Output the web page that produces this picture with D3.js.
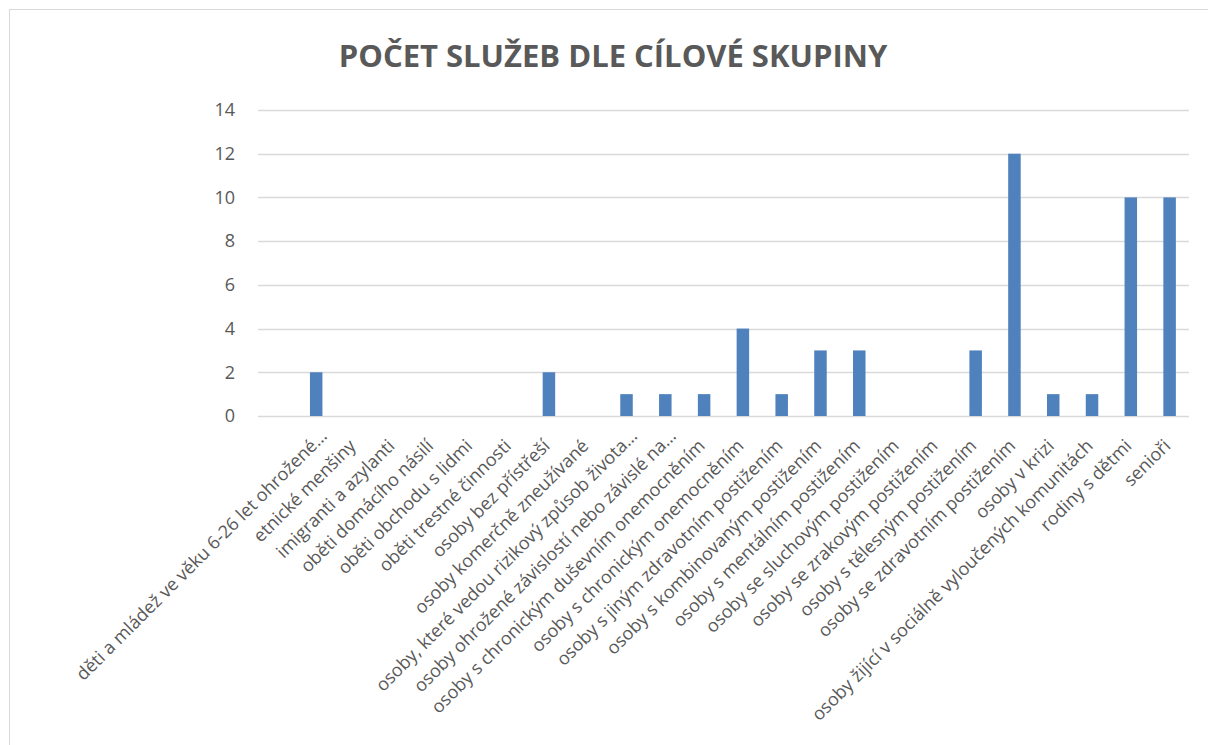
<!DOCTYPE html>
<html>
<head>
<meta charset="utf-8">
<script src="https://cdn.jsdelivr.net/npm/d3@7.9.0/dist/d3.min.js"></script>
<style>
  body { margin: 0; background: #fff; }
  svg { display: block; font-family: "Open Sans", sans-serif; }
</style>
</head>
<body>
<svg id="chart" width="1208" height="745"></svg>
<script>
// categories (first slot is an empty category in the source sheet)
const categories = [
    "",
    "děti a mládež ve věku 6-26 let ohrožené…",
    "etnické menšiny",
    "imigranti a azylanti",
    "oběti domácího násilí",
    "oběti obchodu s lidmi",
    "oběti trestné činnosti",
    "osoby bez přístřeší",
    "osoby komerčně zneužívané",
    "osoby, které vedou rizikový způsob života…",
    "osoby ohrožené závislostí nebo závislé na…",
    "osoby s chronickým duševním onemocněním",
    "osoby s chronickým onemocněním",
    "osoby s jiným zdravotním postižením",
    "osoby s kombinovaným postižením",
    "osoby s mentálním postižením",
    "osoby se sluchovým postižením",
    "osoby se zrakovým postižením",
    "osoby s tělesným postižením",
    "osoby se zdravotním postižením",
    "osoby v krizi",
    "osoby žijící v sociálně vyloučených komunitách",
    "rodiny s dětmi",
    "senioři"
];
const values = [null, 2, 0, 0, 0, 0, 0, 2, 0, 1, 1, 1, 4, 1, 3, 3, 0, 0, 3, 12, 1, 1, 10, 10];
const yTicks = [0, 2, 4, 6, 8, 10, 12, 14];
const title = "POČET SLUŽEB DLE CÍLOVÉ SKUPINY";

const svg = d3.select('#chart');
const plotLeft = 258, plotRight = 1189, plotTop = 110, plotBottom = 416;

// chart frame
svg.append('rect')
    .attr('x', 9.5).attr('y', 9.5)
    .attr('width', 1220).attr('height', 760)
    .attr('fill', 'none')
    .attr('stroke', '#d9d9d9');

let x = d3.scaleBand().domain(d3.range(categories.length)).range([plotLeft, plotRight]);
let y = d3.scaleLinear().domain([0, 14]).range([plotBottom, plotTop]);

// gridlines
svg.append('g')
    .selectAll('line')
    .data(yTicks)
    .join('line')
    .attr('x1', plotLeft).attr('x2', plotRight)
    .attr('y1', d => Math.round(y(d)) + 0.5)
    .attr('y2', d => Math.round(y(d)) + 0.5)
    .attr('stroke', '#d9d9d9')
    .attr('stroke-width', 1.3);

// y axis labels
let yAxis = d3.axisLeft(y).tickValues(yTicks).tickSize(0).tickPadding(0);
let yg = svg.append('g').attr('transform', `translate(235,0)`).call(yAxis);
yg.select('.domain').remove();
yg.selectAll('text')
    .attr('fill', '#595959')
    .style('font-size', '18px')
    .style('font-family', '"Open Sans", sans-serif');

// bars
const barW = 12.5;
svg.append('g')
    .selectAll('rect')
    .data(values.map((v, i) => ({i, v})).filter(d => d.v))
    .join('rect')
    .attr('x', d => x(d.i) + x.bandwidth() / 2 - barW / 2)
    .attr('y', d => y(d.v))
    .attr('width', barW)
    .attr('height', d => y(0) - y(d.v))
    .attr('fill', '#4f81bd');

// x labels (truncated ones are anchored without the ellipsis, like Excel)
let labels = svg.append('g')
    .selectAll('text')
    .data(categories.map((c, i) => ({c, i})).filter(d => d.c))
    .join('text')
    .attr('transform', d => `translate(${x(d.i) + x.bandwidth() / 2 + 2},${plotBottom + 31}) rotate(-45)`)
    .attr('text-anchor', 'end')
    .attr('fill', '#595959')
    .style('font-size', '18px')
    .text(d => d.c);

let probe = svg.append('text').style('font-size', '18px').text('…');
const ellW = probe.node().getComputedTextLength();
probe.remove();
labels.filter(d => d.c.endsWith('…')).attr('dx', ellW);

// title
svg.append('text')
    .attr('x', 613).attr('y', 67)
    .attr('text-anchor', 'middle')
    .attr('fill', '#595959')
    .style('font-size', '31px')
    .style('font-weight', 'bold')
    .text(title);
</script>
</body>
</html>
